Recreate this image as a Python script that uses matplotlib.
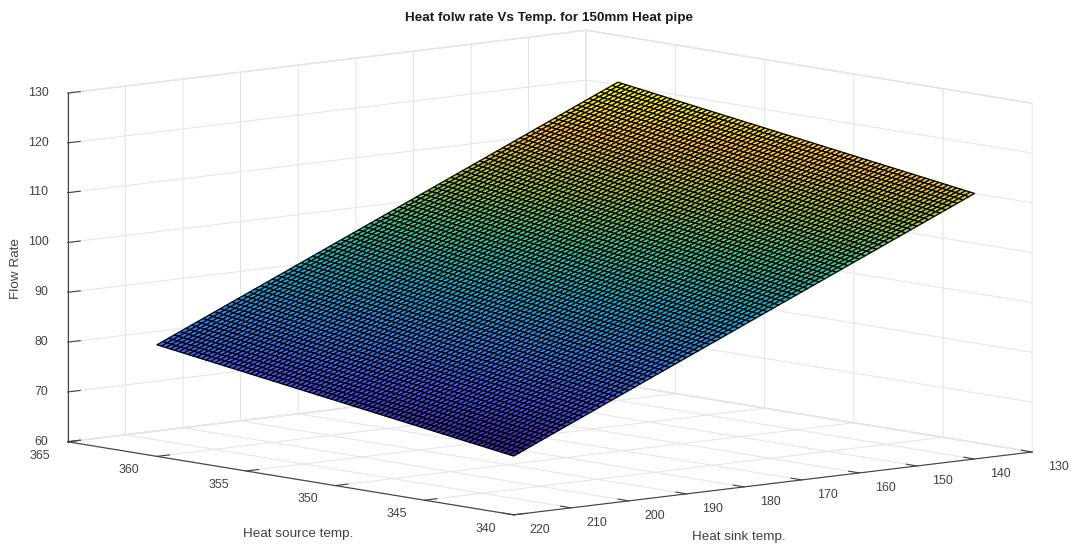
from matplotlib import pyplot as plt
from matplotlib.colors import LinearSegmentedColormap, Normalize
import numpy as np

plt.rcParams['font.family'] = ['Liberation Sans', 'DejaVu Sans']

title = 'Heat folw rate Vs Temp. for 150mm Heat pipe'
source_label = 'Heat source temp.'
sink_label = 'Heat sink temp.'
flow_label = 'Flow Rate'

source_ticks = [340, 345, 350, 355, 360, 365]
sink_ticks = [130, 140, 150, 160, 170, 180, 190, 200, 210, 220]
flow_ticks = [60, 70, 80, 90, 100, 110, 120, 130]

# corner heights; rows are source, columns are sink
corner_source = [340, 360]
corner_sink = [140, 220]
corner_flow = [[113.3, 71.8], [123.9, 82.4]]
mesh_cells = 80

parula = LinearSegmentedColormap.from_list('parula', [
    (0.242, 0.150, 0.660), (0.281, 0.323, 0.958), (0.179, 0.529, 0.968),
    (0.069, 0.695, 0.839), (0.216, 0.784, 0.592), (0.672, 0.779, 0.223),
    (0.999, 0.765, 0.216), (0.977, 0.984, 0.081)])

W, H = 1071, 544
fig = plt.figure(figsize=(W / 100, H / 100), dpi=100, facecolor='white')
side = W / H
ax = fig.add_axes([0, 0.5 - side / 2 - 15 / H, 1, side], projection='3d', facecolor='none')
ax.set_proj_type('ortho')
ax.view_init(elev=8.1, azim=139.3)
ax.set_box_aspect((1, 1, 0.515), zoom=0.933)

# the mesh cells are too small to read one by one, so they are
# interpolated between the four corner heights
u = np.linspace(0, 1, mesh_cells + 1)
source = corner_source[0] + u * (corner_source[1] - corner_source[0])
sink = corner_sink[0] + u * (corner_sink[1] - corner_sink[0])
S, K = np.meshgrid(source, sink, indexing='ij')
U, V = np.meshgrid(u, u, indexing='ij')
c = np.array(corner_flow)
Z = (c[0, 0] * (1 - U) * (1 - V) + c[0, 1] * (1 - U) * V
     + c[1, 0] * U * (1 - V) + c[1, 1] * U * V)

norm = Normalize(Z.min(), Z.max())
ax.plot_surface(S, K, Z, rstride=1, cstride=1, facecolors=parula(norm(Z)),
                edgecolor='black', linewidth=0.9, shade=False, antialiased=True)

ax.set_xlim(340, 365)
ax.set_ylim(130, 220)
ax.set_zlim(60, 130)
ax.set_xticks(source_ticks)
ax.set_yticks(sink_ticks)
ax.set_zticks(flow_ticks)
ax.tick_params(labelsize=8.9, labelcolor='#404040', color='#404040')
ax.tick_params(axis='x', pad=5.5)
ax.tick_params(axis='y', pad=6)
ax.tick_params(axis='z', pad=0)
ax.zaxis.set_ticks_position('upper')
plt.setp(ax.get_xticklabels(), ha='right', va='center')
plt.setp(ax.get_yticklabels(), ha='left', va='center')
plt.setp(ax.get_zticklabels(), ha='right', va='center')

for axis in (ax.xaxis, ax.yaxis, ax.zaxis):
    axis.set_pane_color((1, 1, 1, 1))
    axis.pane.set_edgecolor('#dcdcdc')
    axis.line.set_color('#404040')
    axis.line.set_linewidth(0.8)
    axis._axinfo['grid'].update(color='#e6e6e6', linewidth=0.8)
    axis._axinfo['tick'].update(inward_factor=0, outward_factor=0.3)

fig.text(549 / W, 1 - 18 / H, title, fontsize=9.7, fontweight='bold',
         ha='center', va='center', color='#1a1a1a')
fig.text(298 / W, 1 - 534 / H, source_label, fontsize=9.7, ha='center', va='center', color='#404040')
fig.text(739 / W, 1 - 537 / H, sink_label, fontsize=9.7, ha='center', va='center', color='#404040')
fig.text(16 / W, 1 - 269 / H, flow_label, fontsize=9.7, rotation=90, ha='center', va='center', color='#404040')

fig.savefig('out.png', dpi=100)
plt.close()
